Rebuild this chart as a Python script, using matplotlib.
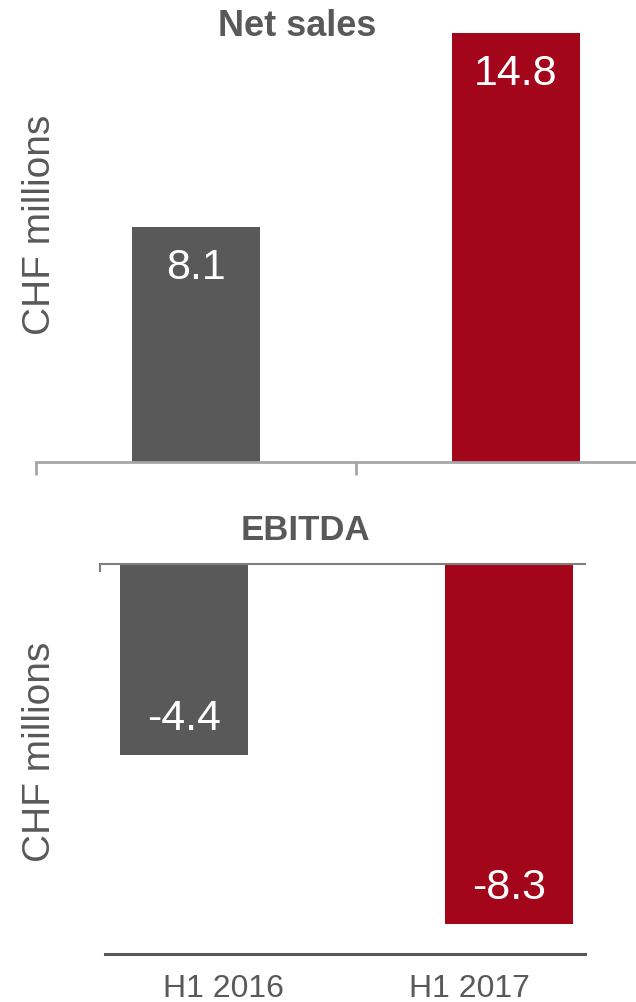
import matplotlib
matplotlib.use("Agg")
import matplotlib.pyplot as plt

plt.rcParams['font.family'] = ['Liberation Sans', 'DejaVu Sans']

# data
periods = ["H1 2016", "H1 2017"]
net_sales = [8.1, 14.8]
ebitda = [-4.4, -8.3]
bar_colors = ["#595959", "#A3051A"]
text_gray = "#595959"

W, H = 636, 1003
fig = plt.figure(figsize=(W / 100, H / 100), dpi=100)


def box(x0, y0, x1, y1):
    # pixel box (top-left origin) -> figure fraction rect
    return [x0 / W, 1 - y1 / H, (x1 - x0) / W, (y1 - y0) / H]


# Net sales panel
ax1 = fig.add_axes(box(36, 13.5, 676, 463))
ax1.bar(range(len(periods)), net_sales, width=0.4, color=bar_colors)
ax1.set_xlim(-0.5, 1.5)
ax1.set_ylim(0, 15.5)
for sp in ["top", "right", "left"]:
    ax1.spines[sp].set_visible(False)
ax1.spines["bottom"].set_color("#a6a6a6")
ax1.spines["bottom"].set_linewidth(2)
ax1.set_xticks([-0.5, 0.5, 1.5])
ax1.set_xticklabels([])
ax1.tick_params(axis="x", length=9, width=2, color="#a6a6a6")
ax1.set_yticks([])
for i, v in enumerate(net_sales):
    ax1.annotate(f"{v:.1f}", (i, v), xytext=(0, -40), textcoords="offset pixels",
                 ha="center", va="center", color="white", fontsize=31)

# EBITDA panel
ax2 = fig.add_axes(box(100, 565, 585, 955))
ax2.bar(range(len(periods)), ebitda, width=0.394, color=bar_colors)
ax2.set_xlim(-0.258, 1.234)
ax2.set_ylim(-9, 0)
for sp in ["right", "left"]:
    ax2.spines[sp].set_visible(False)
ax2.spines["top"].set_color("#7f7f7f")
ax2.spines["top"].set_linewidth(1.5)
ax2.spines["bottom"].set_color("#595959")
ax2.spines["bottom"].set_linewidth(2.2)
ax2.spines["bottom"].set_bounds(-0.243, 1.234)
ax2.set_yticks([])
ax2.set_xticks([0.123, 0.88])
ax2.set_xticklabels(periods)
ax2.tick_params(axis="x", which="major", length=0, pad=14, labelsize=23, labelcolor=text_gray)
ax2.set_xticks([-0.258], minor=True)
ax2.tick_params(axis="x", which="minor", bottom=False, top=True, direction="in",
                length=6, width=1.5, color="#7f7f7f")
for i, v in enumerate(ebitda):
    ax2.annotate(f"{v:.1f}", (i, v), xytext=(0, 37), textcoords="offset pixels",
                 ha="center", va="center", color="white", fontsize=31)

# titles and axis labels
fig.text(297 / W, 1 - 26 / H, "Net sales", ha="center", va="center",
         fontsize=26, fontweight="bold", color=text_gray)
fig.text(305 / W, 1 - 531 / H, "EBITDA", ha="center", va="center",
         fontsize=25, fontweight="bold", color=text_gray)
fig.text(40 / W, 1 - 225 / H, "CHF millions", rotation=90, ha="center", va="center",
         fontsize=28, color=text_gray)
fig.text(40 / W, 1 - 752 / H, "CHF millions", rotation=90, ha="center", va="center",
         fontsize=28, color=text_gray)

fig.savefig("out.png", dpi=100)
